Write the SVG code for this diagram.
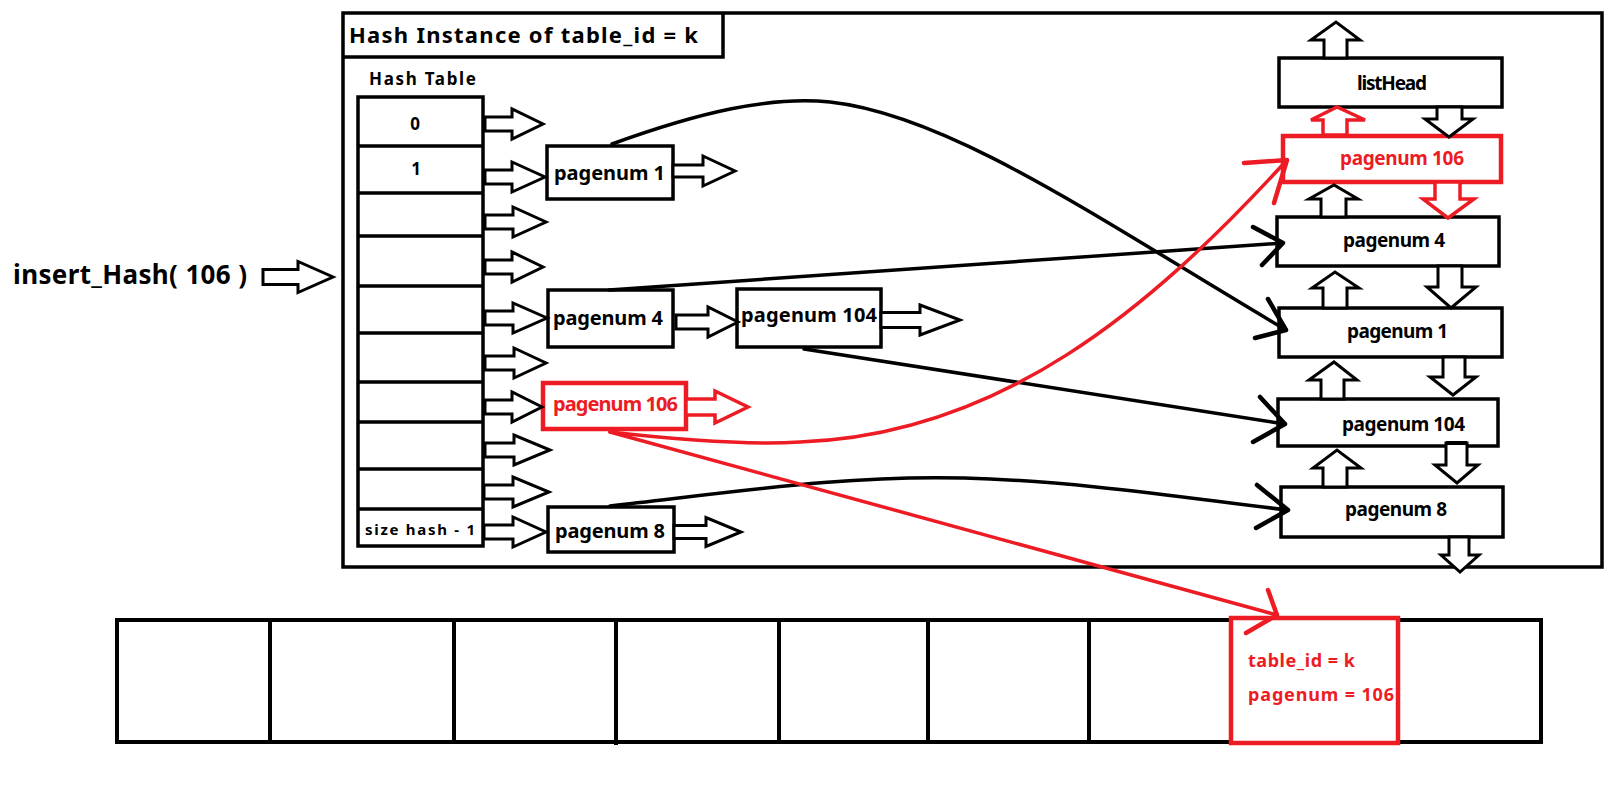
<svg xmlns="http://www.w3.org/2000/svg" width="1614" height="794" viewBox="0 0 1614 794">
<style>
.bg{fill:#fff}
.box{fill:#fff;stroke:#000;stroke-width:3.5}
.rbox{fill:#fff;stroke:#ED1C24;stroke-width:4.5}
.ln{fill:none;stroke:#000;stroke-width:3.5}
.blk{fill:#fff;stroke:#000;stroke-width:3;stroke-linejoin:miter}
.rblk{fill:#fff;stroke:#ED1C24;stroke-width:3.5;stroke-linejoin:miter}
.cv{fill:none;stroke:#000;stroke-width:3.5;stroke-linecap:round}
.rcv{fill:none;stroke:#ED1C24;stroke-width:3.5;stroke-linecap:round}
.hd{fill:none;stroke:#000;stroke-width:4.5;stroke-linecap:round;stroke-linejoin:round}
.rhd{fill:none;stroke:#ED1C24;stroke-width:4.5;stroke-linecap:round;stroke-linejoin:round}
text{font-family:"Noto Sans","Open Sans","DejaVu Sans",sans-serif;font-weight:bold;fill:#000}
.r{fill:#ED1C24}
.l{font-size:20px}
.rc{font-size:19px}
</style>
<rect class="bg" x="0" y="0" width="1614" height="794"/>

<g id="instance">
  <rect class="ln" x="343" y="13" width="1259" height="554"/>
  <path class="ln" d="M343,57 H723 V13"/>
  <text x="349" y="43" font-size="22" textLength="349">Hash Instance of table_id = k</text>
</g>

<g id="insert">
  <text x="13" y="284" font-size="26" textLength="234">insert_Hash( 106 )</text>
</g>

<g id="hashtable">
  <text x="369" y="85" font-size="17" textLength="107">Hash Table</text>
  <rect class="box" x="358" y="97" width="125" height="449"/>
  <path class="ln" d="M358,146 H483 M358,193 H483 M358,236 H483 M358,286 H483 M358,333 H483 M358,382 H483 M358,422 H483 M358,469 H483 M358,509 H483"/>
  <text x="415" y="130" font-size="17" text-anchor="middle">0</text>
  <text x="416" y="175" font-size="17" text-anchor="middle">1</text>
  <text x="365" y="535" font-size="15" textLength="110">size hash - 1</text>
</g>

<g id="h-pagenum1">
  <rect class="box" x="547" y="146" width="126" height="53"/>
  <text class="l" x="554" y="180" textLength="111">pagenum 1</text>
</g>
<g id="h-pagenum4">
  <rect class="box" x="548" y="290" width="125" height="57"/>
  <text class="l" x="553" y="325" textLength="110">pagenum 4</text>
</g>
<g id="h-pagenum104">
  <rect class="box" x="737" y="289" width="144" height="58"/>
  <text class="l" x="741" y="322" textLength="136">pagenum 104</text>
</g>
<g id="h-pagenum106">
  <rect class="rbox" x="543" y="383" width="143" height="46"/>
  <text class="l r" x="553" y="411" textLength="125">pagenum 106</text>
</g>
<g id="h-pagenum8">
  <rect class="box" x="548" y="507" width="126" height="45"/>
  <text class="l" x="555" y="538" textLength="110">pagenum 8</text>
</g>

<g id="l-listHead">
  <rect class="box" x="1279" y="58" width="223" height="49"/>
  <text class="rc" x="1357" y="90" textLength="70">listHead</text>
</g>
<g id="l-pagenum106">
  <rect class="rbox" x="1283" y="136" width="218" height="46"/>
  <text class="rc r" x="1340" y="165" textLength="124">pagenum 106</text>
</g>
<g id="l-pagenum4">
  <rect class="box" x="1277" y="217" width="222" height="49"/>
  <text class="rc" x="1343" y="247" textLength="102">pagenum 4</text>
</g>
<g id="l-pagenum1">
  <rect class="box" x="1279" y="308" width="223" height="49"/>
  <text class="rc" x="1347" y="338" textLength="101">pagenum 1</text>
</g>
<g id="l-pagenum104">
  <rect class="box" x="1278" y="399" width="220" height="47"/>
  <text class="rc" x="1342" y="431" textLength="123">pagenum 104</text>
</g>
<g id="l-pagenum8">
  <rect class="box" x="1281" y="487" width="222" height="50"/>
  <text class="rc" x="1345" y="516" textLength="102">pagenum 8</text>
</g>

<g id="memory">
  <rect class="box" x="117" y="620" width="1424" height="122" style="stroke-width:4"/>
  <path class="ln" style="stroke-width:4" d="M270,620 V744 M454,620 V744 M616,620 V745 M779,620 V742 M928,622 V742 M1089,622 V744 M1236,626 V740"/>
  <rect class="rbox" x="1231" y="618" width="167" height="125"/>
  <text class="r" x="1248" y="667" font-size="18" textLength="107">table_id = k</text>
  <text class="r" x="1248" y="701" font-size="18" textLength="146">pagenum = 106</text>
</g>

<g id="connectors">
  <path class="blk" d="M263,269.5 H298 V261.5 L333,277 L298,292.5 V284.5 H263 Z"/>
  <path class="blk" d="M485,117 H512 V109 L543,124 L512,139 V131 H485 Z"/>
  <path class="blk" d="M485,170 H512 V162 L545,177 L512,192 V184 H485 Z"/>
  <path class="blk" d="M485,215 H513 V207 L546,222 L513,237 V229 H485 Z"/>
  <path class="blk" d="M485,260 H512 V252 L543,267 L512,282 V274 H485 Z"/>
  <path class="blk" d="M485,311 H513 V303 L547,318 L513,333 V325 H485 Z"/>
  <path class="blk" d="M485,356 H514 V348 L546,363 L514,378 V370 H485 Z"/>
  <path class="blk" d="M485,400 H512 V392 L542,407 L512,422 V414 H485 Z"/>
  <path class="blk" d="M485,443 H514 V435 L550,450 L514,465 V457 H485 Z"/>
  <path class="blk" d="M484,485 H513 V477 L549,492 L513,507 V499 H484 Z"/>
  <path class="blk" d="M484,525 H513 V517 L546,532 L513,547 V539 H484 Z"/>
  <path class="blk" d="M673,165 H703 V156 L735,171 L703,186 V177 H673 Z"/>
  <path class="blk" d="M676,315 H708 V307 L738,322 L708,337 V329 H676 Z"/>
  <path class="blk" d="M881,312.5 H920 V305 L960,320 L920,335 V327.5 H881 Z"/>
  <path class="rblk" d="M686,399 H715 V391 L748,407 L715,423 V415 H686 Z"/>
  <path class="blk" d="M674,525.5 H706 V517.5 L741,532 L706,546.5 V538.5 H674 Z"/>

  <path class="blk" d="M1324,58 V40 H1311 L1336,22 L1360,40 H1347 V58 Z"/>
  <path class="blk" d="M1437,107 V119 H1425 L1449,137 L1473,119 H1462 V107 Z"/>
  <path class="rblk" d="M1323,135 V120 H1311 L1337,107 L1365,120 H1347 V135 Z"/>
  <path class="rblk" d="M1435,182 V199 H1423 L1448,218 L1474,199 H1460 V182 Z"/>
  <path class="blk" d="M1321,217 V199 H1309 L1334,185 L1358,199 H1346 V217 Z"/>
  <path class="blk" d="M1438,266 V287 H1427 L1451,308 L1476,287 H1462 V266 Z"/>
  <path class="blk" d="M1323,308 V288 H1312 L1335,272 L1359,288 H1347 V308 Z"/>
  <path class="blk" d="M1443,357 V377 H1430 L1453,395 L1476,377 H1465 V357 Z"/>
  <path class="blk" d="M1321,399 V380 H1309 L1334,362 L1357,380 H1344 V399 Z"/>
  <path class="blk" d="M1446,443 V465 H1435 L1457,483 L1478,465 H1467 V443 Z"/>
  <rect x="1446" y="441" width="21" height="4" fill="#000"/>
  <path class="blk" d="M1323,487 V468 H1313 L1337,450 L1361,468 H1347 V487 Z"/>
  <path class="blk" d="M1449,537 V555 H1441 L1460,572 L1479,555 H1469 V537 Z"/>

  <path class="cv" d="M612,144 C700,112 770,96 830,102 C950,115 1100,220 1286,330"/>
  <path class="hd" d="M1268,299 L1286,330 L1255,338"/>
  <path class="cv" d="M609,290 L1283,243"/>
  <path class="hd" d="M1253,227 L1283,243 L1262,265"/>
  <path class="cv" d="M804,349 L1285,424"/>
  <path class="hd" d="M1260,397 L1285,424 L1253,442"/>
  <path class="cv" d="M610,506 C750,490 850,475 964,478 C1080,481 1200,500 1288,510"/>
  <path class="hd" d="M1257,485 L1288,510 L1256,528"/>

  <path class="rcv" d="M610,432 C680,440 750,445 800,442 C1000,435 1150,310 1287,160"/>
  <path class="rhd" d="M1244,163 L1287,160 L1274,203"/>
  <path class="rcv" d="M610,432 L1277,615"/>
  <path class="rhd" d="M1268,590 L1277,615 L1246,633"/>
</g>
</svg>
